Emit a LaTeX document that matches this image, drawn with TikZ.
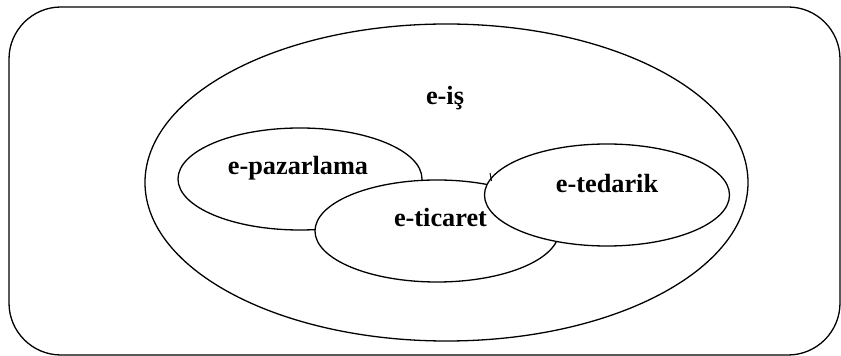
\documentclass[tikz,border=0pt]{standalone}
\usepackage{fontspec}
\setmainfont{Liberation Serif}
\usetikzlibrary{shapes.geometric}
\begin{document}
\begin{tikzpicture}[x=1pt,y=1pt,
  outline/.style={draw=black,line width=1.3pt},
  oval/.style={outline,ellipse,fill=white,inner sep=0pt},
  lbl/.style={anchor=base,inner sep=0pt,font=\fontsize{26.3}{30}\selectfont\bfseries}]
\useasboundingbox (0,0) rectangle (841,356);
\node[outline,rounded corners=52pt,minimum width=831pt,minimum height=348pt,inner sep=0pt] (frame) at (424.5,175) {};
\node[oval,minimum width=603pt,minimum height=317pt] (eis) at (446.5,173.5) {};
\node[oval,minimum width=244pt,minimum height=102pt] (pazar) at (300,177) {};
\node[oval,minimum width=244pt,minimum height=102pt] (ticaret) at (437,125) {};
\node[oval,minimum width=245pt,minimum height=102pt] (tedarik) at (607,161) {};
\coordinate (tickA) at (490,183);
\coordinate (tickB) at (491.5,175);
\draw[line width=1pt] (tickA) -- (tickB);
\node[lbl] (teis) at (445,251) {e-iş};
\node[lbl] (tpazar) at (298,181) {e-pazarlama};
\node[lbl] (tticaret) at (440.5,129) {e-ticaret};
\node[lbl] (ttedarik) at (607,163) {e-tedarik};
\end{tikzpicture}
\end{document}
